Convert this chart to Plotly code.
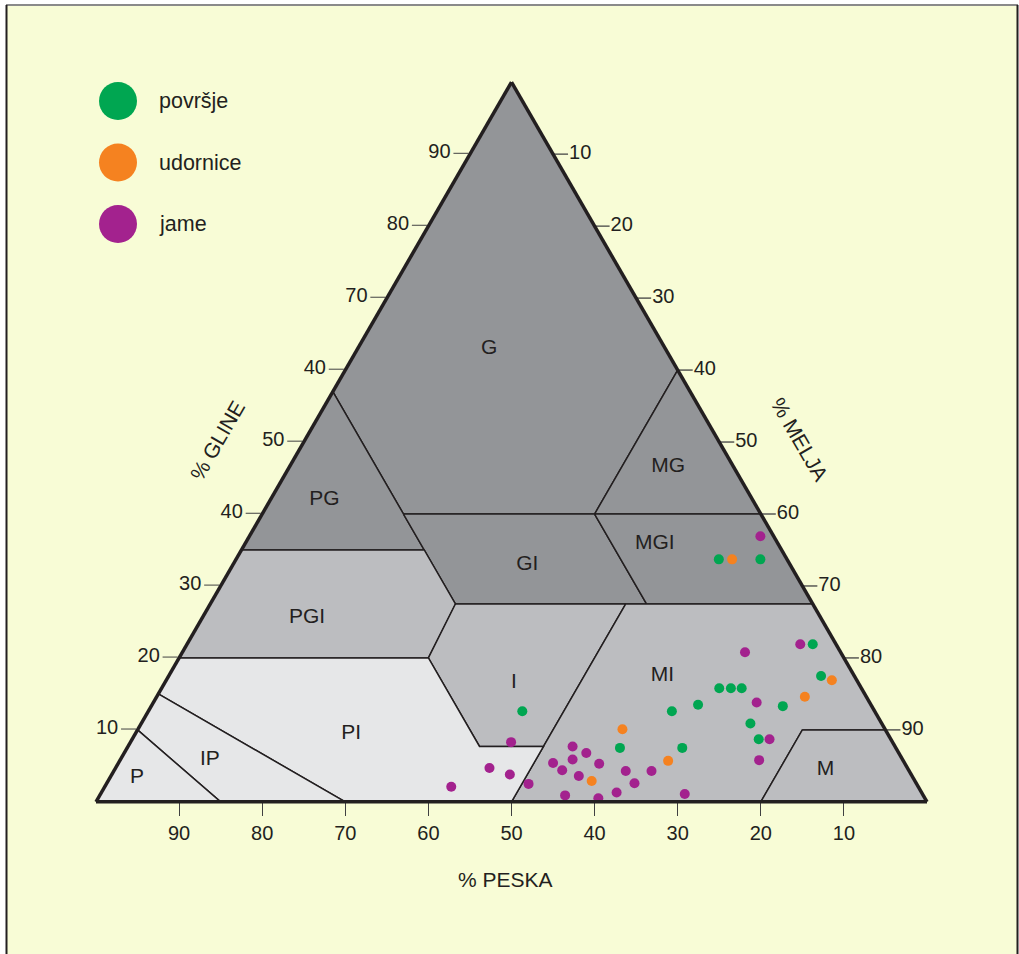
import plotly.graph_objects as go

# ---------------- data ----------------
TICK_VALS = [10, 20, 30, 40, 50, 60, 70, 80, 90]
CLAY_TICK_TEXT = ["10", "20", "30", "40", "50", "40", "70", "80", "90"]
SAND_TICK_TEXT = ["10", "20", "30", "40", "50", "60", "70", "80", "90"]
SILT_TICK_TEXT = ["10", "20", "30", "40", "50", "60", "70", "80", "90"]

# texture classes: vertices in % (clay, sand, silt)
REGION_NAMES = ["G", "PG", "MG", "GI", "MGI", "PGI", "I", "MI", "M", "PI", "IP", "P"]
REGION_CLAY = [
    [100, 57, 40, 40, 60],
    [57, 35, 35],
    [60, 40, 40],
    [40, 40, 27.5, 27.5],
    [40, 40, 27.5, 27.5],
    [35, 35, 27.5, 20, 20],
    [27.5, 27.5, 7.7, 7.7, 20],
    [27.5, 27.5, 10, 10, 0, 0],
    [10, 10, 0, 0],
    [20, 20, 7.7, 7.7, 0, 0, 15],
    [15, 0, 0, 10],
    [10, 0, 0],
]
REGION_SAND = [
    [0, 43, 43, 20, 0],
    [43, 65, 43],
    [0, 20, 0],
    [43, 20, 20, 43],
    [20, 0, 0, 20],
    [65, 43, 43, 50, 80],
    [43, 22.5, 42.3, 50, 50],
    [22.5, 0, 0, 10, 20, 50],
    [10, 0, 0, 20],
    [80, 50, 50, 42.3, 50, 70, 85],
    [85, 70, 85, 90],
    [90, 85, 100],
]
REGION_SILT = [
    [0, 0, 17, 40, 40],
    [0, 0, 22],
    [40, 40, 60],
    [17, 40, 52.5, 29.5],
    [40, 60, 72.5, 52.5],
    [0, 22, 29.5, 30, 0],
    [29.5, 50, 50, 42.3, 30],
    [50, 72.5, 90, 80, 80, 50],
    [80, 90, 100, 80],
    [0, 30, 42.3, 50, 50, 30, 0],
    [0, 30, 15, 0],
    [0, 15, 0],
]
REGION_SHADE = ["dark", "dark", "dark", "dark", "dark", "mid", "mid", "mid", "mid",
                "light", "light", "light"]

# label anchor points of the classes (clay, sand, silt)
LABEL_CLAY = [63, 42, 46.5, 33, 35.9, 25.6, 16.6, 17.5, 4.4, 9.4, 5.8, 3.3]
LABEL_SAND = [21.2, 51.5, 7.9, 31.6, 14.8, 61.8, 41.4, 23.1, 10, 64.6, 83.4, 93.4]
LABEL_SILT = [15.8, 6.5, 45.6, 35.4, 49.3, 12.6, 42, 59.4, 85.6, 26, 10.8, 3.3]

# samples
POVRSJE_CLAY = [12.6, 7.5, 33.7, 33.7, 21.9, 17.5, 15.8, 15.8, 15.8, 13.5, 13.3, 12.6, 10.9, 8.7, 7.5]
POVRSJE_SILT = [45.0, 59.3, 58.1, 63.1, 75.3, 78.5, 67.1, 68.5, 69.8, 65.7, 76.0, 63.0, 73.3, 75.4, 66.8]
POVRSJE_SAND = [42.4, 33.2, 8.2, 3.2, 2.8, 4.0, 17.1, 15.7, 14.4, 20.8, 10.7, 24.4, 15.8, 15.9, 25.7]

UDORNICE_CLAY = [10.1, 2.9, 33.7, 16.9, 14.6, 5.7]
UDORNICE_SILT = [58.3, 58.2, 59.7, 80.1, 78.0, 66.0]
UDORNICE_SAND = [31.6, 38.9, 6.6, 3.0, 7.4, 28.3]

JAME_CLAY = [8.3, 4.7, 3.8, 2.1, 2.5, 7.7, 6.8, 5.9, 5.4, 4.4, 5.3, 3.6, 0.9, 0.5, 1.3,
             4.3, 2.6, 4.3, 36.9, 21.9, 20.8, 13.8, 8.7, 5.8, 1.1]
JAME_SILT = [45.8, 45.0, 47.9, 41.7, 50.8, 53.5, 55.6, 54.4, 52.3, 53.9, 57.9, 56.3, 56.0, 60.2, 62.0,
             61.6, 63.5, 64.7, 61.5, 73.8, 67.7, 72.6, 76.7, 76.9, 70.3]
JAME_SAND = [45.9, 50.3, 48.3, 56.2, 46.7, 38.8, 37.6, 39.7, 42.3, 41.7, 36.8, 40.1, 43.1, 39.3, 36.7,
             34.1, 33.9, 31.0, 1.6, 4.3, 11.5, 13.6, 14.6, 17.3, 28.6]

SERIES_NAMES = ["površje", "udornice", "jame"]
SERIES_COLORS = ["#00a651", "#f58220", "#a3228e"]

# ---------------- style ----------------
W, H = 1019, 954
TRI_LEFT, TRI_RIGHT = 96, 927          # triangle base in pixels
TRI_W = TRI_RIGHT - TRI_LEFT
TRI_H = TRI_W * 3 ** 0.5 / 2
TERN_Y = [0.1572, 0.9161]
BG = "#f8fcd6"
INK = "#231f20"
TICKCOL = "#404041"
SHADES = {"dark": "#939598", "mid": "#bcbdc0", "light": "#e6e7e8"}
FONT = "Liberation Sans, Arial, sans-serif"
TICK_PX = 15
PCT_PER_PX = 100.0 / TRI_W

# pixel frame of the triangle produced by the ternary domain
tri_center_y = H * (1 - (TERN_Y[0] + TERN_Y[1]) / 2)
tri_bottom_px = tri_center_y + TRI_H / 2
tri_top_px = tri_center_y - TRI_H / 2
base_frac = (H - tri_bottom_px) / H
top_frac = (H - tri_top_px) / H

fig = go.Figure()

for name, cl, sa, si, sh in zip(REGION_NAMES, REGION_CLAY, REGION_SAND, REGION_SILT, REGION_SHADE):
    fig.add_trace(go.Scatterternary(
        a=cl + [cl[0]], b=sa + [sa[0]], c=si + [si[0]],
        mode="lines", fill="toself", fillcolor=SHADES[sh],
        line=dict(color=INK, width=1.5), hoverinfo="skip", showlegend=False, name=name))

fig.add_trace(go.Scatterternary(
    a=LABEL_CLAY, b=LABEL_SAND, c=LABEL_SILT, mode="text", text=REGION_NAMES,
    textfont=dict(family=FONT, size=21, color=INK), hoverinfo="skip", showlegend=False))

for nm, col, cl, si, sa in zip(SERIES_NAMES, SERIES_COLORS,
                               [POVRSJE_CLAY, UDORNICE_CLAY, JAME_CLAY],
                               [POVRSJE_SILT, UDORNICE_SILT, JAME_SILT],
                               [POVRSJE_SAND, UDORNICE_SAND, JAME_SAND]):
    fig.add_trace(go.Scatterternary(
        a=cl, b=sa, c=si, mode="markers", name=nm,
        marker=dict(color=col, size=10, line=dict(width=0)),
        hoverinfo="skip", showlegend=False))

# silt axis (right edge) on a helper cartesian frame laid over the triangle:
# x = silt + clay/2 (0..100 across the base), y = clay (0..100 up to the apex)
tick_x, tick_y, lab_x, lab_y = [], [], [], []
for v in TICK_VALS:
    x_edge = v + (100 - v) / 2
    y_edge = 100 - v
    tick_x += [x_edge, x_edge + TICK_PX * PCT_PER_PX, None]
    tick_y += [y_edge, y_edge, None]
    lab_x.append(x_edge + (TICK_PX + 1) * PCT_PER_PX)
    lab_y.append(y_edge)
fig.add_trace(go.Scatter(x=tick_x, y=tick_y, mode="lines", line=dict(color=TICKCOL, width=1.3),
                         hoverinfo="skip", showlegend=False, xaxis="x3", yaxis="y3"))
fig.add_trace(go.Scatter(x=lab_x, y=lab_y, mode="text", text=SILT_TICK_TEXT,
                         textposition="middle right", cliponaxis=False,
                         textfont=dict(family=FONT, size=20, color=INK),
                         hoverinfo="skip", showlegend=False, xaxis="x3", yaxis="y3"))

# manual legend with large circles (cartesian helper axes)
LEG_ROWS = [0, 1, 2]
fig.add_trace(go.Scatter(
    x=[0] * 3, y=LEG_ROWS, mode="markers", cliponaxis=False,
    marker=dict(color=SERIES_COLORS, size=38, line=dict(width=0)),
    hoverinfo="skip", showlegend=False, xaxis="x", yaxis="y"))

# invisible helper trace so the sand axis (bottom) is drawn
fig.add_trace(go.Scatter(x=[100, 0], y=[0, 0], mode="lines", line=dict(width=0),
                         hoverinfo="skip", showlegend=False, xaxis="x2", yaxis="y2"))

annotations = []
for r, nm in zip(LEG_ROWS, SERIES_NAMES):
    annotations.append(dict(x=1, y=r, xref="x", yref="y", text=nm, showarrow=False,
                            xanchor="left", yanchor="middle",
                            font=dict(family=FONT, size=21.5, color=INK)))

annotations += [
    dict(x=217 / W, y=1 - 440 / H, xref="paper", yref="paper", text="% GLINE", textangle=-60,
         xanchor="center", yanchor="middle",
         showarrow=False, font=dict(family=FONT, size=21, color=INK)),
    dict(x=800 / W, y=1 - 439 / H, xref="paper", yref="paper", text="% MELJA", textangle=60,
         xanchor="center", yanchor="middle",
         showarrow=False, font=dict(family=FONT, size=21, color=INK)),
    dict(x=505 / W, y=1 - 879 / H, xref="paper", yref="paper", text="% PESKA",
         xanchor="center", yanchor="middle",
         showarrow=False, font=dict(family=FONT, size=21, color=INK)),
]

def tern_axis(ticktext, show):
    return dict(title=dict(text=""), min=0, tickmode="array", tickvals=TICK_VALS,
                ticktext=ticktext, ticks="outside" if show else "", ticklen=TICK_PX, tickwidth=1.3,
                showticklabels=show,
                tickcolor=TICKCOL, showgrid=False, showline=True, linewidth=3.5,
                linecolor=INK, tickfont=dict(family=FONT, size=20, color=INK))

fig.update_layout(
    width=W, height=H, autosize=False,
    margin=dict(l=0, r=0, t=0, b=0, pad=0),
    paper_bgcolor="white", plot_bgcolor="rgba(0,0,0,0)",
    font=dict(family=FONT, color=INK),
    ternary=dict(
        sum=100,
        domain=dict(x=[TRI_LEFT / W, TRI_RIGHT / W], y=TERN_Y),
        bgcolor="rgba(0,0,0,0)",
        aaxis=tern_axis(CLAY_TICK_TEXT, True),
        baxis=tern_axis(SAND_TICK_TEXT, False),
        caxis=tern_axis(SILT_TICK_TEXT, False),
    ),
    xaxis=dict(domain=[0.05, 0.25], range=[-1.719, 3.506], visible=False, fixedrange=True),
    yaxis=dict(domain=[0.75, 0.95], range=[2.236, -0.867], visible=False, fixedrange=True),
    xaxis2=dict(domain=[TRI_LEFT / W, TRI_RIGHT / W], range=[100, 0], anchor="y2",
                tickmode="array", tickvals=TICK_VALS, ticktext=SAND_TICK_TEXT,
                ticks="outside", ticklen=13, tickwidth=1.3, tickcolor=TICKCOL,
                ticklabelstandoff=0,
                showline=False, showgrid=False, zeroline=False, fixedrange=True,
                tickfont=dict(family=FONT, size=20, color=INK)),
    yaxis2=dict(domain=[base_frac, base_frac + 0.05], range=[0, 1], visible=False, fixedrange=True),
    xaxis3=dict(domain=[TRI_LEFT / W, 1.0], range=[0, 100 * (W - TRI_LEFT) / TRI_W],
                anchor="y3", visible=False, fixedrange=True),
    yaxis3=dict(domain=[base_frac, top_frac], range=[0, 100], anchor="x3",
                visible=False, fixedrange=True),
    annotations=annotations,
    shapes=[
        dict(type="rect", xref="paper", yref="paper", x0=6 / W, x1=1018 / W, y0=-0.05, y1=1 - 5 / H,
             fillcolor=BG, line=dict(width=0), layer="below"),
        dict(type="line", xref="paper", yref="paper", x0=6 / W, x1=1018 / W, y0=1 - 5 / H, y1=1 - 5 / H,
             line=dict(color="#8a8a8a", width=2), layer="below"),
        dict(type="line", xref="paper", yref="paper", x0=6.5 / W, x1=6.5 / W, y0=-0.05, y1=1 - 5 / H,
             line=dict(color=INK, width=2), layer="below"),
        dict(type="line", xref="paper", yref="paper", x0=1017.5 / W, x1=1017.5 / W, y0=-0.05, y1=1 - 5 / H,
             line=dict(color=INK, width=2), layer="below"),
    ],
    showlegend=False,
    hovermode=False,
)

fig.write_html("out.html", config={"displayModeBar": False},
               post_script="document.body.style.margin='0';document.body.style.overflow='hidden';")
